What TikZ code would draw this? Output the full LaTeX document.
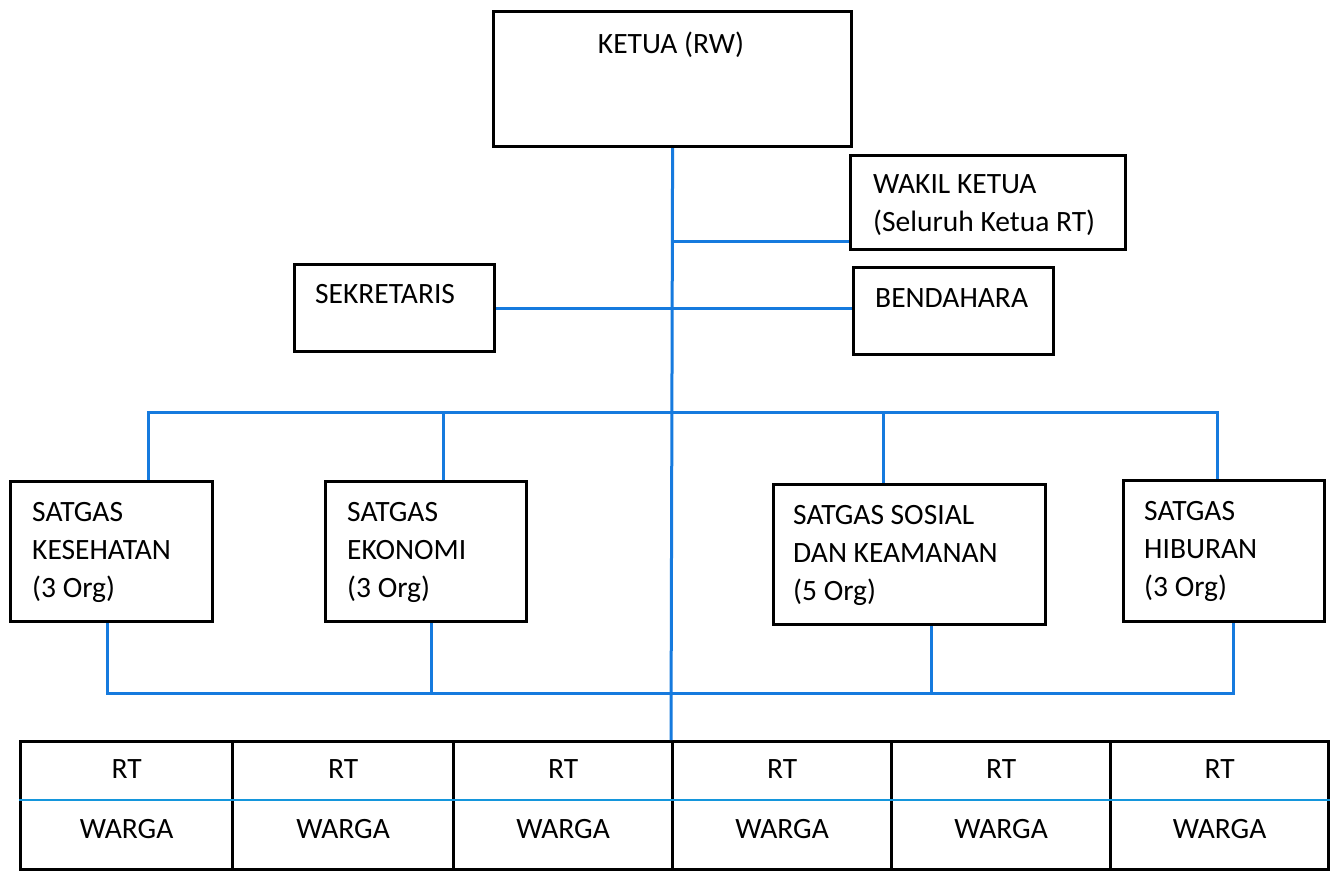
\documentclass[tikz,border=0pt]{standalone}
\usepackage{fontspec}
\setmainfont{Carlito}
\definecolor{linkblue}{RGB}{22,122,222}
\definecolor{rowblue}{RGB}{20,150,220}
\begin{document}
\begin{tikzpicture}[x=1pt,y=-1pt,
  box/.style={draw=black, line width=3.2pt, anchor=north west, inner sep=0pt, fill=none},
  cell/.style={draw=black, line width=3.2pt, anchor=north west, inner sep=0pt, minimum height=128pt},
  conn/.style={draw=linkblue, line width=3pt},
  lbl/.style={inner sep=0pt, align=left, font=\fontsize{29.5}{38}\selectfont},
  txt/.style={inner sep=0pt, font=\fontsize{29.5}{38}\selectfont}
]
\useasboundingbox[fill=white] (0,0) rectangle (1330,871);

% boxes
\node[box, minimum width=358pt, minimum height=135pt] (ketua) at (492,10) {};
\node[box, minimum width=275pt, minimum height=94pt] (wakil) at (849,154) {};
\node[box, minimum width=200pt, minimum height=87pt] (sek) at (293,263) {};
\node[box, minimum width=200pt, minimum height=87pt] (bend) at (852,266) {};
\node[box, minimum width=202pt, minimum height=140pt] (kes) at (9,480) {};
\node[box, minimum width=201pt, minimum height=140pt] (eko) at (324,480) {};
\node[box, minimum width=272pt, minimum height=140pt] (sos) at (772,483) {};
\node[box, minimum width=201pt, minimum height=141pt] (hib) at (1122,479) {};

% texts
\node[txt, anchor=base] (tketua) at (671,53) {KETUA (RW)};
\node[lbl, anchor=north west] (twakil) at (873,174) {WAKIL KETUA\\(Seluruh Ketua RT)};
\node[txt, anchor=base west] (tsek) at (315,303) {SEKRETARIS};
\node[txt, anchor=base west] (tbend) at (875,307) {BENDAHARA};
\node[lbl, anchor=north west] (tkes) at (32,502) {SATGAS\\KESEHATAN\\(3 Org)};
\node[lbl, anchor=north west] (teko) at (347,502) {SATGAS\\EKONOMI\\(3 Org)};
\node[lbl, anchor=north west] (tsos) at (793,505) {SATGAS SOSIAL\\DAN KEAMANAN\\(5 Org)};
\node[lbl, anchor=north west] (thib) at (1144,501) {SATGAS\\HIBURAN\\(3 Org)};

% table cells
\node[cell, minimum width=212pt] (c1) at (19,740) {};
\node[cell, minimum width=221pt] (c2) at (231,740) {};
\node[cell, minimum width=219pt] (c3) at (452,740) {};
\node[cell, minimum width=219pt] (c4) at (671,740) {};
\node[cell, minimum width=219pt] (c5) at (890,740) {};
\node[cell, minimum width=218pt] (c6) at (1109,740) {};
\draw[draw=rowblue, line width=2pt] ([yshift=-60pt]c1.north west) -- ([yshift=-60pt]c6.north east);
\foreach \i in {1,...,6}{
  \node[txt, anchor=base] (rt\i) at ([yshift=-38pt]c\i.north) {RT};
  \node[txt, anchor=base] (wg\i) at ([yshift=-98pt]c\i.north) {WARGA};
}

% connectors
\coordinate (t1) at (148,412);
\coordinate (t2) at (443,412);
\coordinate (t3) at (883,412);
\coordinate (t4) at (1217,412);
\coordinate (b1) at (107,693);
\coordinate (b2) at (431,693);
\coordinate (b3) at (931,693);
\coordinate (b4) at (1233,693);

\draw[conn] (ketua.south) -- (c4.north west);
\draw[conn] ([yshift=10pt]wakil.south west) -| (ketua.south);
\draw[conn] (sek.east) -- (sek.east -| bend.west);
\draw[conn] (t1 |- kes.north) -- (t1) -- (t4) -- (t4 |- hib.north);
\draw[conn] (t2) -- (t2 |- eko.north);
\draw[conn] (t3) -- (t3 |- sos.north);
\draw[conn] (b1 |- kes.south) -- (b1) -- (b4) -- (b4 |- hib.south);
\draw[conn] (b2) -- (b2 |- eko.south);
\draw[conn] (b3) -- (b3 |- sos.south);
\end{tikzpicture}
\end{document}
